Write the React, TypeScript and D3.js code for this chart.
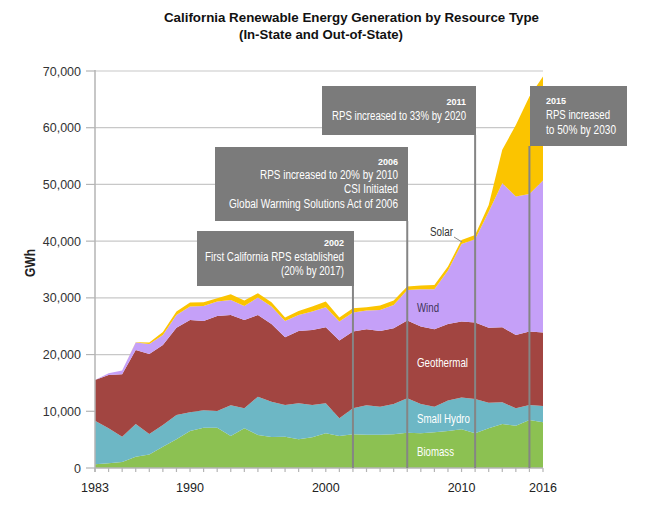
import * as d3 from 'd3';
import { useEffect } from 'react';

const years = [
  1983, 1984, 1985, 1986, 1987, 1988, 1989, 1990, 1991, 1992, 1993, 1994,
  1995, 1996, 1997, 1998, 1999, 2000, 2001, 2002, 2003, 2004, 2005, 2006,
  2007, 2008, 2009, 2010, 2011, 2012, 2013, 2014, 2015, 2016,
];
const biomass = [
  650, 820, 1060, 2000, 2400, 3760, 5060, 6530, 7100, 7100, 5650, 7000, 5820,
  5470, 5530, 5060, 5410, 6120, 5650, 5940, 5880, 5880, 5940, 6230, 6120, 6290,
  6530, 6820, 6120, 7000, 7760, 7470, 8470, 8060,
];
const smallHydro = [
  7700, 6180, 4470, 5760, 3600, 3830, 4290, 3290, 3070, 2960, 5400, 3530, 6760,
  6230, 5580, 6350, 5700, 5290, 3110, 4590, 5170, 4940, 5350, 6060, 5170, 4530,
  5350, 5590, 6050, 4520, 3820, 3060, 2640, 2880,
];
const geothermal = [
  7170, 9400, 10990, 13060, 14110, 14110, 15400, 16280, 15760, 16750, 15940,
  15570, 14410, 13700, 11940, 12760, 13230, 13400, 13700, 13520, 13410, 13350,
  13350, 13700, 13640, 13640, 13520, 13400, 13470, 13230, 13230, 12930, 12940,
  12930,
];
const wind = [
  0, 300, 650, 1290, 1760, 1760, 2240, 2360, 2650, 2530, 2650, 2480, 3060, 3060,
  2880, 2820, 3240, 3530, 3350, 3350, 3290, 3700, 4110, 5410, 6590, 7060, 9410,
  13700, 14700, 20450, 25410, 24400, 24280, 26820,
];
const solar = [
  0, 0, 0, 50, 240, 530, 590, 700, 640, 590, 1000, 940, 760, 760, 590, 710, 880,
  1000, 710, 770, 590, 770, 770, 600, 640, 760, 710, 710, 760, 1190, 5880,
  12640, 17170, 18340,
];

const seriesKeys = ['Biomass', 'Small Hydro', 'Geothermal', 'Wind', 'Solar'];
const seriesColors = ['#8cc152', '#6db7c5', '#a24541', '#c5a0f8', '#fbc400'];
const yTicks = [0, 10000, 20000, 30000, 40000, 50000, 60000, 70000];
const xTickLabels = [1983, 1990, 2000, 2010, 2016];

const title1 = 'California Renewable Energy Generation by Resource Type';
const title2 = '(In-State and Out-of-State)';

const App = () => {
  useEffect(() => {
    document.body.style.margin = '0';
  }, []);

  const width = 649;
  const height = 507;
  const x = d3.scaleLinear().domain([1983, 2016]).range([95, 543]);
  const y = d3.scaleLinear().domain([0, 70000]).range([468, 71]);

  const rows = years.map((yr, i) => ({
    year: yr,
    Biomass: biomass[i],
    'Small Hydro': smallHydro[i],
    Geothermal: geothermal[i],
    Wind: wind[i],
    Solar: solar[i],
  }));
  const stacked = d3.stack<any>().keys(seriesKeys)(rows);
  const area = d3
    .area<any>()
    .x((d) => x(d.data.year))
    .y0((d) => y(d[0]))
    .y1((d) => y(d[1]));

  const fmt = d3.format(',');
  const font = 'Liberation Sans, Arial, sans-serif';
  const boxFill = '#7b7b7b';
  const lineColor = '#858585';

  // annotation boxes, anchored to their year line
  const notes = [
    { year: 2002, x0: 197, x1: 354, y0: 231, y1: 286, anchor: 'end', tx: 344,
      head: 246, lines: [
        { t: 'First California RPS established', y: 261, w: 139 },
        { t: '(20% by 2017)', y: 275, w: 63 },
      ] },
    { year: 2006, x0: 215, x1: 408, y0: 147, y1: 221, anchor: 'end', tx: 398,
      head: 165, lines: [
        { t: 'RPS increased to 20% by 2010', y: 179, w: 138 },
        { t: 'CSI Initiated', y: 193, w: 54 },
        { t: 'Global Warming Solutions Act of 2006', y: 208, w: 169 },
      ] },
    { year: 2011, x0: 322, x1: 476, y0: 86, y1: 135, anchor: 'end', tx: 466,
      head: 105, lines: [{ t: 'RPS increased to 33% by 2020', y: 120, w: 134 }] },
    { year: 2015, x0: 530, x1: 627, y0: 86, y1: 146, anchor: 'start', tx: 546,
      head: 104, lines: [
        { t: 'RPS increased', y: 119, w: 64 },
        { t: 'to 50% by 2030', y: 134, w: 70 },
      ] },
  ];

  return (
    <svg width={width} height={height} style={{ display: 'block' }}>
      <rect width={width} height={height} fill="#ffffff" />
      <text x={351.5} y={22} textAnchor="middle" fontFamily={font} fontWeight="bold"
        fontSize={13} textLength={375} lengthAdjust="spacingAndGlyphs" fill="#111">
        {title1}
      </text>
      <text x={321} y={39} textAnchor="middle" fontFamily={font} fontWeight="bold"
        fontSize={13} textLength={164} lengthAdjust="spacingAndGlyphs" fill="#111">
        {title2}
      </text>

      {yTicks.map((t) => (
        <g key={t}>
          {t > 0 && (
            <line x1={95} x2={543} y1={y(t)} y2={y(t)} stroke="#c8c8c8" strokeWidth={1.2} />
          )}
          <line x1={86} x2={95} y1={y(t)} y2={y(t)} stroke="#b5b5b5" strokeWidth={1.2} />
          <text x={81} y={y(t) + 4.5} textAnchor="end" fontFamily={font} fontSize={12.5}
            fill="#333">
            {fmt(t)}
          </text>
        </g>
      ))}
      <text transform="translate(35,263) rotate(-90)" textAnchor="middle" fontFamily={font}
        fontSize={15} fontWeight="bold" fill="#222" textLength={28}
        lengthAdjust="spacingAndGlyphs">
        GWh
      </text>

      {stacked.map((s, i) => (
        <path key={s.key} d={area(s) || ''} fill={seriesColors[i]} />
      ))}

      <line x1={95} x2={95} y1={70} y2={472} stroke="#b5b5b5" strokeWidth={1.5} />
      <line x1={95} x2={543} y1={468} y2={468} stroke="#b5b5b5" strokeWidth={1.5} />
      {years.map((yr) => (
        <line key={yr} x1={x(yr)} x2={x(yr)} y1={468} y2={472} stroke="#b5b5b5"
          strokeWidth={1.2} />
      ))}
      {xTickLabels.map((yr) => (
        <text key={yr} x={x(yr)} y={492} textAnchor="middle" fontFamily={font}
          fontSize={12.5} fill="#222">
          {yr}
        </text>
      ))}

      {notes.map((n) => (
        <g key={n.year}>
          <line x1={x(n.year)} x2={x(n.year)} y1={n.y1} y2={468} stroke={lineColor}
            strokeWidth={2} />
          <rect x={n.x0} y={n.y0} width={n.x1 - n.x0} height={n.y1 - n.y0} fill={boxFill} />
          <text x={n.tx} y={n.head} textAnchor={n.anchor} fontFamily={font}
            fontWeight="bold" fontSize={9} fill="#fff">
            {n.year}
          </text>
          {n.lines.map((l) => (
            <text key={l.t} x={n.tx} y={l.y} textAnchor={n.anchor} fontFamily={font}
              fontSize={12.5} fill="#fff" textLength={l.w} lengthAdjust="spacingAndGlyphs">
              {l.t}
            </text>
          ))}
        </g>
      ))}

      <text x={430} y={236} fontFamily={font} fontSize={12.5} fill="#333" textLength={23}
        lengthAdjust="spacingAndGlyphs">
        Solar
      </text>
      <line x1={454} y1={237} x2={462} y2={242} stroke="#888" strokeWidth={1} />
      <text x={417} y={312} fontFamily={font} fontSize={13.5} fill="#3e3458" textLength={22}
        lengthAdjust="spacingAndGlyphs">
        Wind
      </text>
      <text x={417} y={367} fontFamily={font} fontSize={13.5} fill="#fff" textLength={51}
        lengthAdjust="spacingAndGlyphs">
        Geothermal
      </text>
      <text x={417} y={423} fontFamily={font} fontSize={13.5} fill="#fff" textLength={53}
        lengthAdjust="spacingAndGlyphs">
        Small Hydro
      </text>
      <text x={417} y={456} fontFamily={font} fontSize={13.5} fill="#fff" textLength={37}
        lengthAdjust="spacingAndGlyphs">
        Biomass
      </text>
    </svg>
  );
};

export default App;
